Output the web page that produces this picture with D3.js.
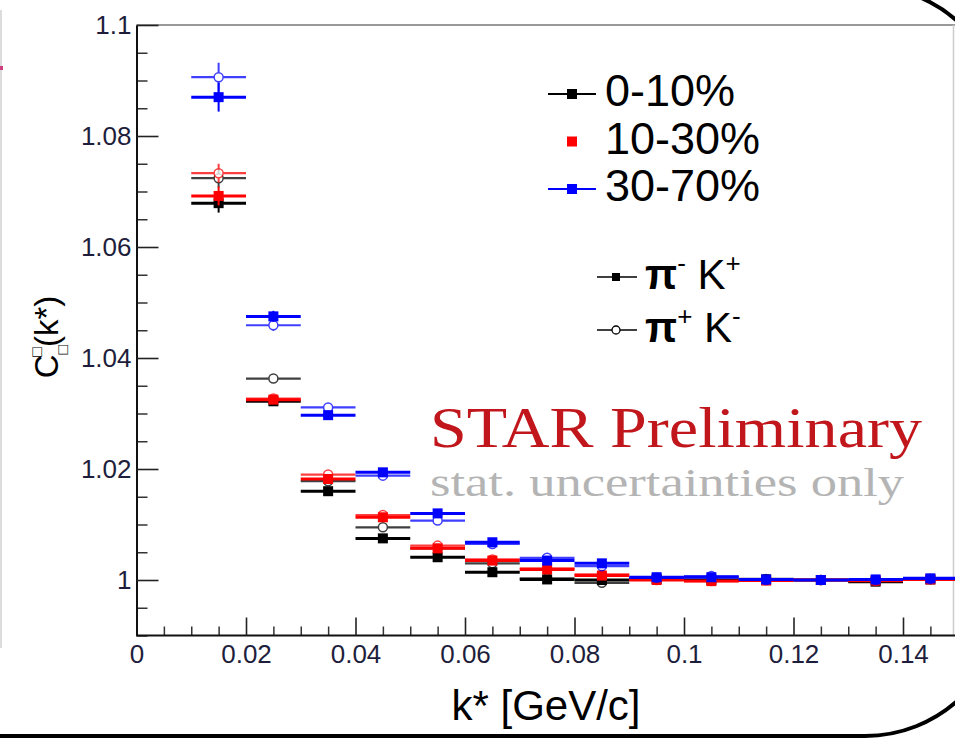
<!DOCTYPE html>
<html>
<head>
<meta charset="utf-8">
<script src="https://cdn.jsdelivr.net/npm/d3@7"></script>
<style>
  body { margin: 0; background: #fff; }
  svg { display: block; }
</style>
</head>
<body>
<svg id="chart"></svg>
<script>
// bin centres in k* [GeV/c]
var kStar = [0.015, 0.025, 0.035, 0.045, 0.055, 0.065, 0.075, 0.085, 0.095, 0.105, 0.115, 0.125, 0.135, 0.145];
var binHalfWidth = 0.005;

// correlation values, filled = pi- K+, open = pi+ K-
var c0010PimKp = [1.0679, 1.0322, 1.0160, 1.0075, 1.0041, 1.0014, 1.0001, 1.0000, 1.0002, 1.0000, 1.0001, 1.0000, 0.9997, 1.0001];
var c0010PipKm = [1.0724, 1.0363, 1.0178, 1.0095, 1.0057, 1.0030, 1.0003, 0.9995, 1.0003, 0.9999, 1.0002, 1.0000, 0.9998, 1.0002];
var c1030PimKp = [1.0692, 1.0325, 1.0182, 1.0113, 1.0057, 1.0035, 1.0019, 1.0008, 1.0000, 0.9998, 0.9999, 1.0000, 0.9999, 1.0001];
var c1030PipKm = [1.0733, 1.0327, 1.0190, 1.0117, 1.0062, 1.0037, 1.0021, 1.0010, 1.0000, 0.9998, 1.0000, 1.0000, 0.9998, 1.0002];
var c3070PimKp = [1.0870, 1.0475, 1.0297, 1.0194, 1.0120, 1.0068, 1.0035, 1.0030, 1.0005, 1.0005, 1.0001, 1.0000, 1.0001, 1.0003];
var c3070PipKm = [1.0906, 1.0459, 1.0311, 1.0188, 1.0107, 1.0065, 1.0040, 1.0025, 1.0004, 1.0007, 1.0000, 1.0000, 1.0000, 1.0002];

// statistical errors
var errCentral = [0.0017, 0.0008, 0.0008, 0.0006, 0.0005, 0.0004, 0.0003, 0.0003, 0.0003, 0.0002, 0.0002, 0.0002, 0.0002, 0.0002];
var errPeripheral = [0.0026, 0.0010, 0.0008, 0.0007, 0.0006, 0.0005, 0.0004, 0.0004, 0.0003, 0.0003, 0.0003, 0.0003, 0.0003, 0.0003];

var centralityLabels = ['0-10%', '10-30%', '30-70%'];
var xTickValues = [0, 0.02, 0.04, 0.06, 0.08, 0.1, 0.12, 0.14];
var xTickLabels = ['0', '0.02', '0.04', '0.06', '0.08', '0.1', '0.12', '0.14'];
var yTickValues = [1, 1.02, 1.04, 1.06, 1.08, 1.1];
var yTickLabels = ['1', '1.02', '1.04', '1.06', '1.08', '1.1'];

var config = {
  width: 955,
  height: 738,
  font: '"Liberation Sans", Arial, Helvetica, sans-serif',
  serif: '"Liberation Serif", "Times New Roman", serif',
  colors: ['#000000', '#ff0000', '#0000ff'],
};

var svg = d3.select('#chart')
    .attr('width', config.width)
    .attr('height', config.height);

var x = d3.scaleLinear().domain([0, 0.15]).range([136.5, 957.75]);
var y = d3.scaleLinear().domain([0.99, 1.1]).range([635.5, 25]);

// slide frame (rounded box partly cut off) and neighbour panel edge
svg.append('path')
    .attr('d', 'M-20,736 L865,736 A139,139 0 0 0 1004,597 L1004,125 A139,139 0 0 0 865,-14 L-20,-14')
    .attr('fill', 'none')
    .attr('stroke', '#000')
    .attr('stroke-width', 4);
svg.append('line')
    .attr('x1', 1).attr('x2', 1).attr('y1', 10).attr('y2', 648)
    .attr('stroke', '#d0d0d0').attr('stroke-width', 1.5);
svg.append('rect').attr('x', 0).attr('y', 66).attr('width', 3).attr('height', 4).attr('fill', '#d04080');

// top and right frame of the plot
svg.append('line')
    .attr('x1', x(0)).attr('x2', 955).attr('y1', y(1.1)).attr('y2', y(1.1))
    .attr('stroke', '#999').attr('stroke-width', 2);
svg.append('line')
    .attr('x1', 953.5).attr('x2', 953.5).attr('y1', y(1.1)).attr('y2', y(0.99))
    .attr('stroke', '#ccc').attr('stroke-width', 1.5);

// minor ticks
var xMinor = d3.range(0, 0.1501, 0.005).filter(function(d) { return Math.abs(d / 0.02 - Math.round(d / 0.02)) > 1e-6; });
var yMinor = d3.range(0.99, 1.1001, 0.005).filter(function(d) { return Math.abs((d - 1) / 0.02 - Math.round((d - 1) / 0.02)) > 1e-6; });

svg.append('g')
    .attr('transform', 'translate(0,' + y(0.99) + ')')
    .call(d3.axisBottom(x).tickValues(xMinor).tickSize(-9).tickFormat(''))
    .call(function(g) { g.select('.domain').remove(); g.selectAll('line').attr('stroke', '#333').attr('stroke-width', 1.5); });
svg.append('g')
    .attr('transform', 'translate(' + x(0) + ',0)')
    .call(d3.axisLeft(y).tickValues(yMinor).tickSize(-11).tickFormat(''))
    .call(function(g) { g.select('.domain').remove(); g.selectAll('line').attr('stroke', '#333').attr('stroke-width', 1.5); });

// major axes
var xAxis = svg.append('g')
    .attr('transform', 'translate(0,' + y(0.99) + ')')
    .call(d3.axisBottom(x).tickValues(xTickValues).tickSizeInner(-18).tickSizeOuter(0).tickPadding(9)
      .tickFormat(function(d, i) { return xTickLabels[i]; }));
var yAxis = svg.append('g')
    .attr('transform', 'translate(' + x(0) + ',0)')
    .call(d3.axisLeft(y).tickValues(yTickValues).tickSizeInner(-22).tickSizeOuter(0).tickPadding(5)
      .tickFormat(function(d, i) { return yTickLabels[i]; }));

[xAxis, yAxis].forEach(function(a) {
  a.select('.domain').attr('stroke', '#111').attr('stroke-width', 2);
  a.selectAll('.tick line').attr('stroke', '#222').attr('stroke-width', 1.6);
  a.selectAll('.tick text')
      .attr('fill', '#1e1e3c')
      .style('font-family', config.font)
      .style('font-size', '26px');
});
xAxis.select('.domain').attr('d', 'M' + x(0) + ',0H' + 955);

// axis titles
svg.append('text')
    .attr('x', 546).attr('y', 720)
    .attr('text-anchor', 'middle')
    .style('font-family', config.font)
    .style('font-size', '42px')
    .text('k* [GeV/c]');

var yTitle = svg.append('text')
    .attr('transform', 'translate(58,337) rotate(-90)')
    .attr('text-anchor', 'middle')
    .style('font-family', config.font)
    .style('font-size', '33px');
yTitle.append('tspan').text('C');
yTitle.append('tspan').attr('dy', 10).style('font-size', '16px').text('□');
yTitle.append('tspan').attr('dx', -12).attr('dy', -26).style('font-size', '16px').text('□');
yTitle.append('tspan').attr('dy', 16).text('(k*)');

// data series: [values, errors, colour index, filled]
var series = [
  [c0010PipKm, errCentral, 0, false],
  [c0010PimKp, errCentral, 0, true],
  [c1030PipKm, errCentral, 1, false],
  [c1030PimKp, errCentral, 1, true],
  [c3070PipKm, errPeripheral, 2, false],
  [c3070PimKp, errPeripheral, 2, true],
];

var plot = svg.append('g');
series.forEach(function(s) {
  var values = s[0], errs = s[1], color = config.colors[s[2]], filled = s[3];
  var grp = plot.append('g').attr('opacity', filled ? 1 : 0.75);
  kStar.forEach(function(k, i) {
    grp.append('line')
        .attr('x1', x(k - binHalfWidth)).attr('x2', x(k + binHalfWidth))
        .attr('y1', y(values[i])).attr('y2', y(values[i]))
        .attr('stroke', color).attr('stroke-width', filled ? 3 : 2.2);
    grp.append('line')
        .attr('x1', x(k)).attr('x2', x(k))
        .attr('y1', y(values[i] - errs[i])).attr('y2', y(values[i] + errs[i]))
        .attr('stroke', color).attr('stroke-width', 2);
    if (filled) {
      grp.append('rect')
          .attr('x', x(k) - 5).attr('y', y(values[i]) - 5)
          .attr('width', 10).attr('height', 10)
          .attr('fill', color);
    } else {
      grp.append('circle')
          .attr('cx', x(k)).attr('cy', y(values[i])).attr('r', 4.5)
          .attr('fill', '#fff').attr('stroke', color).attr('stroke-width', 1.5);
    }
  });
});

// legend: centrality
var legend = svg.append('g');
centralityLabels.forEach(function(label, i) {
  var ly = 94 + i * 47.5;
  if (i !== 1) {
    legend.append('line')
        .attr('x1', 548).attr('x2', 596).attr('y1', ly).attr('y2', ly)
        .attr('stroke', config.colors[i]).attr('stroke-width', 2);
  }
  legend.append('rect')
      .attr('x', 567).attr('y', ly - 5).attr('width', 10).attr('height', 10)
      .attr('fill', config.colors[i]);
  legend.append('text')
      .attr('x', 605).attr('y', ly + 12)
      .style('font-family', config.font)
      .style('font-size', '45px')
      .text(label);
});

// legend: pair type
var pairRows = [
  { y: 277, filled: true, sup1: '-', sup2: '+' },
  { y: 330, filled: false, sup1: '+', sup2: '-' },
];
pairRows.forEach(function(r) {
  legend.append('line')
      .attr('x1', 597).attr('x2', 637).attr('y1', r.y).attr('y2', r.y)
      .attr('stroke', '#000').attr('stroke-width', 1.6);
  if (r.filled) {
    legend.append('rect').attr('x', 612).attr('y', r.y - 4).attr('width', 8).attr('height', 8).attr('fill', '#000');
  } else {
    legend.append('circle').attr('cx', 616).attr('cy', r.y).attr('r', 4)
        .attr('fill', '#fff').attr('stroke', '#000').attr('stroke-width', 1.3);
  }
  var t = legend.append('text')
      .attr('x', 645).attr('y', r.y + 12)
      .style('font-family', config.font)
      .style('font-size', '42px');
  t.append('tspan').style('font-weight', 'bold').text('π');
  t.append('tspan').attr('dy', -17).style('font-size', '26px').text(r.sup1);
  t.append('tspan').attr('dy', 17).text(' K');
  t.append('tspan').attr('dy', -17).style('font-size', '26px').text(r.sup2);
});

// preliminary tag
svg.append('text')
    .attr('x', 430).attr('y', 447)
    .attr('textLength', 492).attr('lengthAdjust', 'spacingAndGlyphs')
    .attr('fill', '#c0161c')
    .style('font-family', config.serif)
    .style('font-size', '58px')
    .text('STAR Preliminary');
svg.append('text')
    .attr('x', 430).attr('y', 496)
    .attr('textLength', 474).attr('lengthAdjust', 'spacingAndGlyphs')
    .attr('fill', '#b4b4b4')
    .style('font-family', config.serif)
    .style('font-size', '40px')
    .text('stat. uncertainties only');
</script>
</body>
</html>
